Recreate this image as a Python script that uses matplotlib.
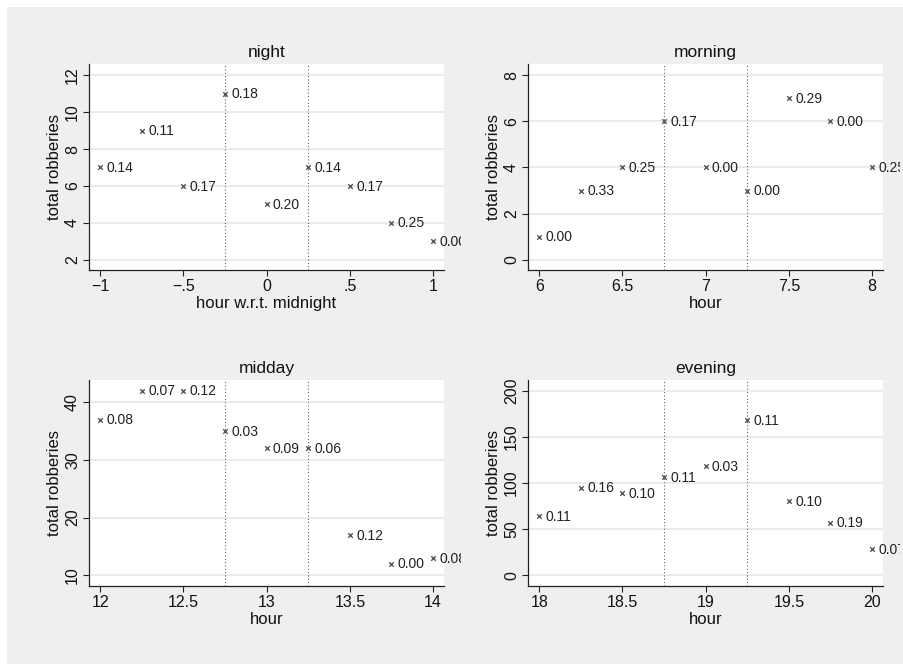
import matplotlib
matplotlib.use("Agg")
import matplotlib.pyplot as plt
from matplotlib.patches import Rectangle
from matplotlib.transforms import Bbox

plt.rcParams['font.family'] = ['Liberation Sans', 'DejaVu Sans']

# ---- data ----
night_x = [-1, -0.75, -0.5, -0.25, 0, 0.25, 0.5, 0.75, 1]
night_y = [7, 9, 6, 11, 5, 7, 6, 4, 3]
night_lab = ["0.14", "0.11", "0.17", "0.18", "0.20", "0.14", "0.17", "0.25", "0.00"]

morning_x = [6, 6.25, 6.5, 6.75, 7, 7.25, 7.5, 7.75, 8]
morning_y = [1, 3, 4, 6, 4, 3, 7, 6, 4]
morning_lab = ["0.00", "0.33", "0.25", "0.17", "0.00", "0.00", "0.29", "0.00", "0.25"]

midday_x = [12, 12.25, 12.5, 12.75, 13, 13.25, 13.5, 13.75, 14]
midday_y = [37, 42, 42, 35, 32, 32, 17, 12, 13]
midday_lab = ["0.08", "0.07", "0.12", "0.03", "0.09", "0.06", "0.12", "0.00", "0.08"]

evening_x = [18, 18.25, 18.5, 18.75, 19, 19.25, 19.5, 19.75, 20]
evening_y = [64, 95, 89, 106, 118, 168, 80, 57, 28]
evening_lab = ["0.11", "0.16", "0.10", "0.11", "0.03", "0.11", "0.10", "0.19", "0.07"]

panels = [
    ("night", night_x, night_y, night_lab, "hour w.r.t. midnight",
     [-1, -0.5, 0, 0.5, 1], ["\u22121", "\u2212.5", "0", ".5", "1"],
     [2, 4, 6, 8, 10, 12], (-0.25, 0.25), (-1.068, 1.066), (1.44, 12.61)),
    ("morning", morning_x, morning_y, morning_lab, "hour",
     [6, 6.5, 7, 7.5, 8], ["6", "6.5", "7", "7.5", "8"],
     [0, 2, 4, 6, 8], (6.75, 7.25), (5.932, 8.066), (-0.45, 8.49)),
    ("midday", midday_x, midday_y, midday_lab, "hour",
     [12, 12.5, 13, 13.5, 14], ["12", "12.5", "13", "13.5", "14"],
     [10, 20, 30, 40], (12.75, 13.25), (11.932, 14.066), (8.14, 43.87)),
    ("evening", evening_x, evening_y, evening_lab, "hour",
     [18, 18.5, 19, 19.5, 20], ["18", "18.5", "19", "19.5", "20"],
     [0, 50, 100, 150, 200], (18.75, 19.25), (17.932, 20.066), (-11.6, 211.6)),
]

W, H = 904, 664
fig = plt.figure(figsize=(W / 100, H / 100), dpi=100)
fig.patch.set_facecolor("white")
fig.patches.append(Rectangle((7 / W, 0), 1 - 7 / W, 1 - 7 / H, transform=fig.transFigure,
                             facecolor="#efefef", edgecolor="none", zorder=-10))

# axes boxes in pixels: left, top, right, bottom
boxes = [(89, 64, 444, 270), (528, 64, 883, 270),
         (89, 380, 444, 586), (528, 380, 883, 586)]

for (title, xs, ys, labs, xlabel, xt, xtl, yt, vls, xl, yl), (l, t, r, b) in zip(panels, boxes):
    ax = fig.add_axes([l / W, 1 - b / H, (r - l) / W, (b - t) / H])
    ax.set_facecolor("white")
    ax.set_xlim(*xl)
    ax.set_ylim(*yl)
    for y in yt:
        ax.axhline(y, color="#e8e8e8", lw=1.2, zorder=0)
    for v in vls:
        ax.axvline(v, color="#666666", lw=0.8, ls=(0, (1, 2)), zorder=1)
    ax.scatter(xs, ys, marker="x", s=11, color="#5a5a5a", linewidths=1.0, zorder=3)
    clipbox = Bbox.from_extents(l - 10, H - b - 10, r + 17, H - t + 10)
    for x, y, s in zip(xs, ys, labs):
        a = ax.annotate(s, (x, y), xytext=(4.5, -0.5), textcoords="offset points",
                        ha="left", va="center", fontsize=10, color="#222222",
                        annotation_clip=False, zorder=4)
        a.set_clip_on(True)
        a.set_clip_box(clipbox)
    ax.set_xticks(xt)
    ax.set_xticklabels(xtl)
    ax.set_yticks(yt)
    ax.set_yticklabels([str(v) for v in yt], rotation=90, va="center")
    ax.tick_params(axis="both", direction="out", length=4, width=0.8, color="#222222",
                   labelsize=11.5, labelcolor="#111111", pad=2.5)
    for sp in ["top", "right"]:
        ax.spines[sp].set_visible(False)
    for sp in ["left", "bottom"]:
        ax.spines[sp].set_color("#222222")
        ax.spines[sp].set_linewidth(0.9)
    ax.set_title(title, fontsize=12.5, color="#111111", pad=5)
    ax.set_xlabel(xlabel, fontsize=12, color="#111111", labelpad=1.5)
    ax.set_ylabel("total robberies", fontsize=12, color="#111111", labelpad=2)

fig.savefig("out.png", dpi=100, facecolor=fig.get_facecolor())
